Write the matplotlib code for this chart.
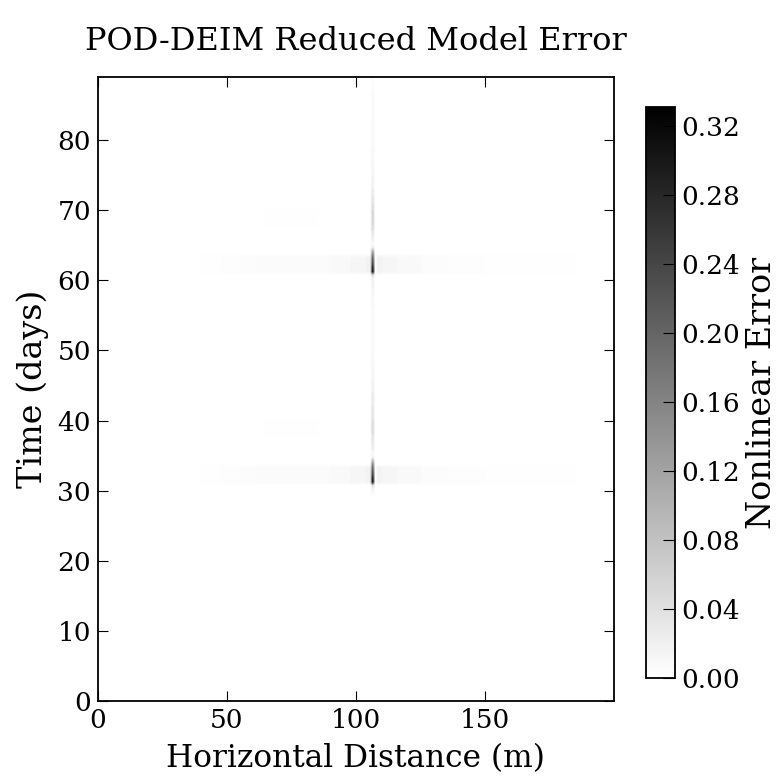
import numpy as np
import matplotlib
matplotlib.use("Agg")
import matplotlib.pyplot as plt

plt.rcParams['font.family'] = ['DejaVu Serif']
plt.rcParams['xtick.direction'] = 'in'
plt.rcParams['ytick.direction'] = 'in'
plt.rcParams['xtick.top'] = True
plt.rcParams['ytick.right'] = True
plt.rcParams['xtick.major.size'] = 7
plt.rcParams['ytick.major.size'] = 7
plt.rcParams['axes.linewidth'] = 1.3

# grid: 1 m cells in x, half-day rows in time
x_max = 200.0
t_max = 89.0
dt = 0.5
n_x = 200
n_t = 178

# error column sitting on the node at x ~ 106 m
spike_col = 106
# (time in days, error) along that column
spike_t = [29.5, 30.0, 30.5, 31.0, 31.5, 32.0, 32.5, 33.0, 33.5, 34.0, 34.5, 35.0,
           35.5, 36.0, 37.0, 38.0, 39.0, 40.0, 41.0, 42.0, 43.0, 44.0, 46.0, 48.0,
           50.0, 52.0, 54.0, 56.0, 58.0, 59.0, 60.0, 60.5,
           61.0, 61.5, 62.0, 62.5, 63.0, 63.5, 64.0, 64.5, 65.0, 65.5, 66.0, 67.0,
           68.0, 69.0, 70.0, 71.0, 72.0, 73.0, 75.0, 77.0, 79.0, 81.0, 83.0, 85.0,
           87.0, 88.5]
spike_err = [0.01, 0.02, 0.05, 0.33, 0.31, 0.27, 0.24, 0.21, 0.17, 0.10, 0.02, 0.01,
             0.02, 0.03, 0.04, 0.05, 0.05, 0.04, 0.04, 0.03, 0.03, 0.02, 0.015, 0.012,
             0.01, 0.01, 0.01, 0.012, 0.015, 0.02, 0.02, 0.05,
             0.33, 0.31, 0.27, 0.24, 0.21, 0.17, 0.10, 0.02, 0.01, 0.02, 0.03, 0.05,
             0.06, 0.06, 0.05, 0.04, 0.03, 0.02, 0.015, 0.012, 0.01, 0.01, 0.008, 0.008,
             0.006, 0.005]

# faint horizontal bands around the two events
band_starts = [31.0, 61.0]
band_len = 2.5
band_x0 = [40, 48, 55, 62, 70, 80, 90, 98, 104, 108, 110, 116, 125, 135, 150, 165]
band_x1 = [48, 55, 62, 70, 80, 90, 98, 104, 106, 110, 116, 125, 135, 150, 165, 185]
band_err = [0.002, 0.003, 0.0045, 0.006, 0.006, 0.006, 0.009, 0.012, 0.018,
            0.018, 0.012, 0.009, 0.0045, 0.003, 0.002, 0.0015]

# weak patches above the bands
patch_t0 = [38.0, 68.0]
patch_t1 = [40.0, 70.0]
patch_x0 = [65, 65]
patch_x1 = [85, 85]
patch_err = [0.0015, 0.002]

err = np.zeros((n_t, n_x))
for t0 in band_starts:
    r0, r1 = int(t0 / dt), int((t0 + band_len) / dt)
    for a, b, v in zip(band_x0, band_x1, band_err):
        err[r0:r1, a:b] = v
for t0, t1, a, b, v in zip(patch_t0, patch_t1, patch_x0, patch_x1, patch_err):
    err[int(t0 / dt):int(t1 / dt), a:b] = v
# fill the column, holding each value until the next listed time
for i, (t, v) in enumerate(zip(spike_t, spike_err)):
    t_next = spike_t[i + 1] if i + 1 < len(spike_t) else t_max
    err[int(t / dt):int(t_next / dt), spike_col] = v

fig = plt.figure(figsize=(7.8, 7.78), dpi=100)
ax = fig.add_axes([0.1256, 0.099, 0.6615, 0.802])
im = ax.imshow(err, origin='lower', extent=[0, x_max, 0, t_max], aspect='auto',
               cmap='gray_r', vmin=0, vmax=0.331, interpolation='bilinear')
ax.set_xlim(0, x_max)
ax.set_ylim(0, t_max)
ax.set_xticks([0, 50, 100, 150])
ax.set_yticks(np.arange(0, 81, 10))
ax.tick_params(labelsize=19, pad=5)
ax.set_xlabel('Horizontal Distance (m)', fontsize=22.5, labelpad=7)
ax.set_ylabel('Time (days)', fontsize=24, labelpad=6)
fig.suptitle('POD-DEIM Reduced Model Error', fontsize=23, x=0.456, y=0.966)

cax = fig.add_axes([0.828, 0.1285, 0.037, 0.734])
cb = fig.colorbar(im, cax=cax, ticks=np.arange(0, 0.321, 0.04), format='%.2f')
cb.outline.set_linewidth(1.3)
cax.tick_params(labelsize=19, direction='in', length=9, right=True, pad=5)
cb.set_label('Nonlinear Error', fontsize=24, labelpad=4)

fig.savefig('out.png', dpi=100)
